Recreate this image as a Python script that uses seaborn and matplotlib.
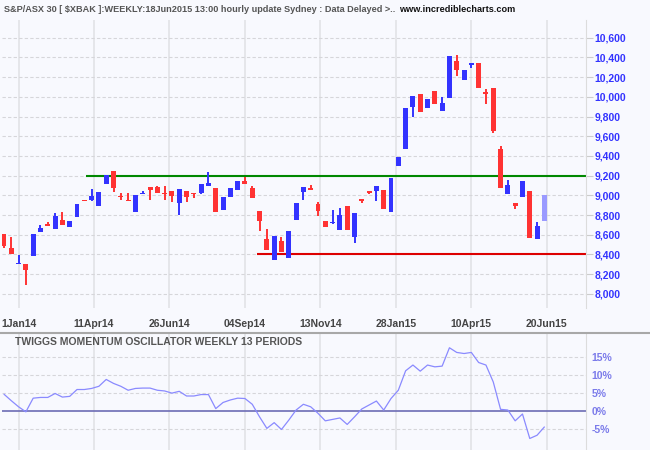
import numpy as np
import pandas as pd
import matplotlib
matplotlib.use("Agg")
import matplotlib.pyplot as plt
import seaborn as sns
from matplotlib.lines import Line2D

# ---------------- data ----------------
opens = [8612, 8461, 8302, 8299, 8383, 8626, 8703, 8656, 8754, 8676,
         8777, 8956, 8949, 8888, 9110, 9248, 8989, 8956, 8828, 9009,
         9087, 9087, 9026, 9046, 8918, 9046, 9026, 9020, 9090, 9077,
         8848, 8986, 9050, 9147, 9077, 8844, 8552, 8343, 8541, 8363,
         8747, 9030, 9077, 8915, 8743, 8716, 8646, 8895, 8575, 8966,
         9046, 9041, 9057, 8828, 9294, 9466, 9901, 10029, 9891, 10059,
         9860, 9988, 10363, 10174, 10326, 10343, 10039, 10090, 9472, 9010,
         8919, 8980, 9047, 8555, 8737]
highs = [8612, 8575, 8390, 8299, 8612, 8703, 8733, 8818, 8828, 8743,
         8915, 8956, 9067, 9036, 9208, 9248, 9020, 9020, 9006, 9046,
         9087, 9097, 9097, 9046, 9067, 9046, 9026, 9117, 9238, 9077,
         8986, 9077, 9147, 9188, 9097, 8844, 8653, 8592, 8578, 8642,
         8925, 9087, 9107, 8935, 8743, 8855, 8875, 8895, 8824, 8966,
         9046, 9098, 9057, 9179, 9391, 9887, 10009, 10029, 9978, 10059,
         9999, 10413, 10427, 10272, 10343, 10343, 10080, 10090, 9503, 9159,
         8919, 9149, 9047, 8734, 9007]
lows = [8464, 8400, 8302, 8090, 8383, 8626, 8693, 8656, 8696, 8676,
        8777, 8939, 8939, 8888, 9110, 9030, 8949, 8939, 8828, 9009,
        8956, 9020, 8956, 8929, 8804, 8929, 8969, 9009, 9090, 8828,
        8848, 8979, 9050, 9110, 8969, 8636, 8444, 8343, 8424, 8363,
        8747, 8956, 9050, 8787, 8676, 8706, 8646, 8646, 8514, 8918,
        9009, 8939, 8858, 8828, 9294, 9466, 9800, 9850, 9891, 9931,
        9860, 9988, 10214, 10174, 10295, 10093, 9931, 9628, 9071, 9010,
        8858, 8980, 8562, 8555, 8737]
closes = [8484, 8400, 8316, 8242, 8612, 8673, 8693, 8794, 8696, 8743,
          8915, 8945, 8996, 9036, 9208, 9070, 8979, 8939, 9006, 9020,
          9050, 9020, 9009, 8989, 9067, 8979, 9009, 9117, 9127, 8828,
          8986, 9077, 9147, 9110, 8969, 8737, 8444, 8592, 8424, 8642,
          8925, 9087, 9050, 8838, 8676, 8733, 8804, 8646, 8824, 8945,
          9026, 9098, 8858, 9179, 9391, 9887, 10009, 9850, 9978, 9931,
          9938, 10413, 10275, 10272, 10343, 10093, 10032, 9658, 9071, 9108,
          8892, 9149, 8562, 8693, 9007]
momentum = [4.7, 2.9, 1.2, -0.2, 3.6, 3.8, 3.8, 4.9, 3.9, 4.1,
            6.0, 6.0, 6.3, 6.9, 8.8, 7.7, 6.9, 5.8, 6.3, 6.4,
            6.4, 5.8, 5.6, 5.0, 5.5, 4.2, 4.2, 4.6, 4.6, 0.7,
            2.4, 3.1, 3.6, 3.5, 1.9, -1.6, -4.8, -3.2, -5.1, -2.5,
            0.3, 1.9, 1.2, -0.6, -2.7, -2.3, -1.9, -3.7, -1.6, 0.6,
            1.7, 2.8, 0.3, 3.5, 5.8, 11.2, 12.8, 11.1, 12.8, 12.3,
            12.5, 17.6, 16.3, 16.0, 16.3, 13.5, 12.8, 8.1, 0.5, 0.3,
            -2.7, -0.8, -7.6, -6.7, -4.4]
date_labels = ["1Jan14", "11Apr14", "26Jun14", "04Sep14", "13Nov14",
               "28Jan15", "10Apr15", "20Jun15"]
price_ticks = [8000, 8200, 8400, 8600, 8800, 9000, 9200, 9400, 9600,
               9800, 10000, 10200, 10400, 10600]
pct_ticks = [-5, 0, 5, 10, 15]
resistance = 9200
support = 8400
title = "S&P/ASX 30 [ $XBAK ]:WEEKLY:18Jun2015 13:00 hourly update Sydney : Data Delayed >.."
site = "www.incrediblecharts.com"
osc_title = "TWIGGS MOMENTUM OSCILLATOR WEEKLY 13 PERIODS"

df = pd.DataFrame({"open": opens, "high": highs, "low": lows,
                   "close": closes, "mom": momentum})
df["idx"] = np.arange(len(df))

# ---------------- style ----------------
sns.set_style("white")
plt.rcParams["font.family"] = ["Liberation Sans", "DejaVu Sans"]
BG = "#f8f9fe"
RED = "#ff3333"
BLUE = "#3333ff"
LIGHT = "#9a9aff"

W, H = 650, 450
fig = plt.figure(figsize=(6.5, 4.5), dpi=100, facecolor=BG)

x_lo, x_hi = -0.27, 79.7
tick_pos = np.linspace(2, 74.33, len(date_labels))

ax = fig.add_axes([2 / W, 1 - 308 / H, 584 / W, 288 / H], facecolor=BG)
ax.set_xlim(x_lo, x_hi)
ax.set_ylim(7856, 10780)
ax.set_axisbelow(True)

for xv in tick_pos:
    ax.axvline(xv, color="#e4e4e8", lw=1.3, zorder=0)
for yv in price_ticks:
    ax.axhline(yv, color="#d6d6da", lw=0.8, ls=(0, (3, 2)), zorder=0)

colors = []
n = len(df)
for i, r in df.iterrows():
    if i == n - 1:
        colors.append(LIGHT)
    elif r["close"] < r["open"]:
        colors.append(RED)
    else:
        colors.append(BLUE)

ax.vlines(df["idx"], df["low"], df["high"], colors=colors, lw=1.4, zorder=3)
bottoms = np.minimum(df["open"], df["close"])
heights = np.maximum(np.abs(df["close"] - df["open"]), 12)
ax.bar(df["idx"], heights, bottom=bottoms, width=0.68, color=colors,
       linewidth=0, zorder=4)

ax.hlines(resistance, 11.2, x_hi, color="#008800", lw=1.5, zorder=2)
ax.hlines(support, 34.7, x_hi, color="#dd0000", lw=1.5, zorder=2)

ax.yaxis.tick_right()
ax.set_yticks(price_ticks)
ax.set_yticklabels([f"{v:,}" for v in price_ticks])
ax.tick_params(axis="y", colors="#cccccc", length=5, width=0.8, pad=1,
               labelcolor=BLUE, labelsize=7.5)
for t in ax.get_yticklabels():
    t.set_fontweight("bold")
ax.set_xticks(tick_pos)
ax.set_xticklabels(date_labels)
ax.tick_params(axis="x", length=0, pad=8, labelcolor="#444444", labelsize=7.5)
for t in ax.get_xticklabels():
    t.set_fontweight("bold")
for s in ["left", "top", "bottom"]:
    ax.spines[s].set_visible(False)
ax.spines["right"].set_color("#dcdcdc")
ax.set_xlabel("")
ax.set_ylabel("")

# ---------------- oscillator ----------------
ax2 = fig.add_axes([2 / W, 0, 584 / W, 117 / H], facecolor=BG)
ax2.set_xlim(x_lo, x_hi)
ax2.set_ylim(-10.8, 21.7)
for xv in tick_pos:
    ax2.axvline(xv, color="#e4e4e8", lw=1.3, zorder=0)
for yv in pct_ticks:
    if yv != 0:
        ax2.axhline(yv, color="#d6d6da", lw=0.8, ls=(0, (3, 2)), zorder=0)
ax2.axhline(0, color="#6c6cb4", lw=1.2, zorder=1)
sns.lineplot(data=df, x="idx", y="mom", ax=ax2, color="#8a8aff", lw=0.9,
             zorder=3)
ax2.yaxis.tick_right()
ax2.set_yticks(pct_ticks)
ax2.set_yticklabels([f"{v}%" for v in pct_ticks])
ax2.tick_params(axis="y", length=0, pad=4, labelcolor="#7b7bea", labelsize=7.5)
for t in ax2.get_yticklabels():
    t.set_fontweight("bold")
ax2.set_xticks([])
for s in ["left", "top", "bottom"]:
    ax2.spines[s].set_visible(False)
ax2.spines["right"].set_color("#dcdcdc")
ax2.set_xlabel("")
ax2.set_ylabel("")

# ---------------- texts & separator ----------------
fig.text(4 / W, 1 - 9 / H, title, ha="left", va="center", fontsize=6.6,
         color="#555555", fontweight="bold")
fig.text(515 / W, 1 - 9 / H, site, ha="right", va="center", fontsize=6.6,
         color="#111111", fontweight="bold")
fig.text(15 / W, 1 - 342 / H, osc_title, ha="left", va="center",
         fontsize=7.5, color="#555555", fontweight="bold")
fig.add_artist(Line2D([0, 1], [1 - 333 / H] * 2, color="#a8a8a8", lw=1.5,
                      transform=fig.transFigure))

fig.savefig("out.png", dpi=100, facecolor=BG)
